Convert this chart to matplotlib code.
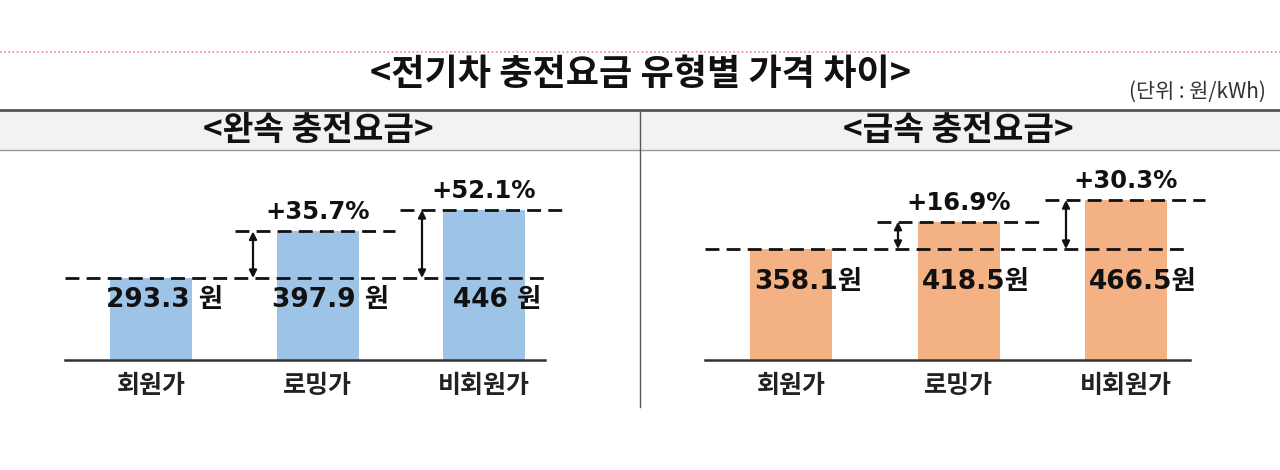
import matplotlib
matplotlib.use("Agg")
import matplotlib.pyplot as plt
from matplotlib.lines import Line2D
from matplotlib.patches import Rectangle

plt.rcParams['font.family'] = ['Noto Sans CJK KR', 'DejaVu Sans']

# ---- data ----
title = "<전기차 충전요금 유형별 가격 차이>"
unit_label = "(단위 : 원/kWh)"
categories = ["회원가", "로밍가", "비회원가"]
slow_title = "<완속 충전요금>"
fast_title = "<급속 충전요금>"
slow_values = [293.3, 397.9, 446]
fast_values = [358.1, 418.5, 466.5]
slow_value_labels = ["293.3 원", "397.9 원", "446 원"]
fast_value_labels = ["358.1원", "418.5원", "466.5원"]

W, H = 1280, 470
fig = plt.figure(figsize=(12.8, 4.7), dpi=100)
fig.patch.set_facecolor("white")


def fx(x):
    return x / W


def fy(y):
    return 1 - y / H


# top dotted red line
fig.add_artist(Line2D([0, 1], [fy(52), fy(52)], transform=fig.transFigure,
                      color="#e58a8a", lw=1.2, ls=(0, (1, 1.5))))
fig.text(fx(640), fy(74), title, ha="center", va="center", fontsize=26,
         fontweight="bold", color="#111")
fig.text(fx(1266), fy(92), unit_label, ha="right", va="center", fontsize=15,
         color="#333")

# header band
fig.add_artist(Rectangle((0, fy(150)), 1, (150 - 110) / H, transform=fig.transFigure,
                         facecolor="#f2f2f2", edgecolor="none", zorder=0))
fig.add_artist(Line2D([0, 1], [fy(110), fy(110)], transform=fig.transFigure,
                      color="#555", lw=2))
fig.add_artist(Line2D([0, 1], [fy(150), fy(150)], transform=fig.transFigure,
                      color="#999", lw=1))
fig.add_artist(Line2D([fx(640), fx(640)], [fy(110), fy(407)], transform=fig.transFigure,
                      color="#555", lw=1))
fig.text(fx(318), fy(130), slow_title, ha="center", va="center", fontsize=24,
         fontweight="bold", color="#111")
fig.text(fx(958), fy(130), fast_title, ha="center", va="center", fontsize=24,
         fontweight="bold", color="#111")

DIG = ['DejaVu Sans', 'Noto Sans CJK KR']


def panel(px_left, px_right, centers_px, values, vlabels, color, ybot, scale,
          lab_dy, lab_dx, dash_segs_px):
    top_px, bot_px = 160, 360
    ax = fig.add_axes([fx(px_left), fy(bot_px), (px_right - px_left) / W,
                       (bot_px - top_px) / H])
    spacing = (centers_px[2] - centers_px[0]) / 2
    c0 = centers_px[0]

    def dx(p):
        return (p - c0) / spacing

    ax.set_xlim(dx(px_left), dx(px_right))
    ax.set_ylim(ybot, ybot + (bot_px - top_px) * scale)
    xs = list(range(len(values)))
    ax.bar(xs, values, width=82 / spacing, color=color, edgecolor="none", zorder=1)
    for s in ["top", "left", "right"]:
        ax.spines[s].set_visible(False)
    ax.spines["bottom"].set_color("#333")
    ax.spines["bottom"].set_linewidth(1.8)
    ax.set_yticks([])
    ax.set_xticks(xs)
    ax.set_xticklabels(categories, fontsize=18, fontweight="bold", color="#222")
    ax.tick_params(axis="x", length=0, pad=10)
    ax.patch.set_alpha(0)

    base = values[0]
    dash = (0, (5, 2.6))
    ax.plot([dx(px_left), dx(px_right)], [base, base], color="#111", lw=2,
            ls=dash, clip_on=False, zorder=3)
    for i in (1, 2):
        l, r, ax_px = dash_segs_px[i - 1]
        ax.plot([dx(l), dx(r)], [values[i], values[i]], color="#111", lw=2,
                ls=dash, clip_on=False, zorder=3)
        ax.annotate("", xy=(dx(ax_px), values[i]), xytext=(dx(ax_px), base),
                    arrowprops=dict(arrowstyle="<|-|>", color="#111", lw=1.6,
                                    mutation_scale=11, shrinkA=0, shrinkB=0),
                    annotation_clip=False, zorder=4)
        pct = (values[i] / base - 1) * 100
        ax.annotate(f"+{pct:.1f}%", xy=(i, values[i]), xytext=(0, 7),
                    textcoords="offset pixels", ha="center", va="bottom",
                    fontsize=17.5, fontweight="bold", family=DIG, color="#111",
                    annotation_clip=False)
    for i, v in enumerate(values):
        ax.annotate(vlabels[i], xy=(i, base), xytext=(lab_dx, -lab_dy),
                    textcoords="offset pixels", ha="center", va="center",
                    fontsize=19, fontweight="bold", family=DIG, color="#111",
                    annotation_clip=False, zorder=5)
    return ax


panel(65, 545, [151, 316, 484], slow_values, slow_value_labels, "#9dc3e6",
      109.2, 2.245, 22, 13, [(235, 395, 253), (400, 565, 422)])
panel(705, 1190, [791, 960, 1126], fast_values, fast_value_labels, "#f4b183",
      112.5, 2.213, 33, 17, [(877, 1040, 898), (1045, 1205, 1066)])

fig.savefig("out.png", dpi=100)
